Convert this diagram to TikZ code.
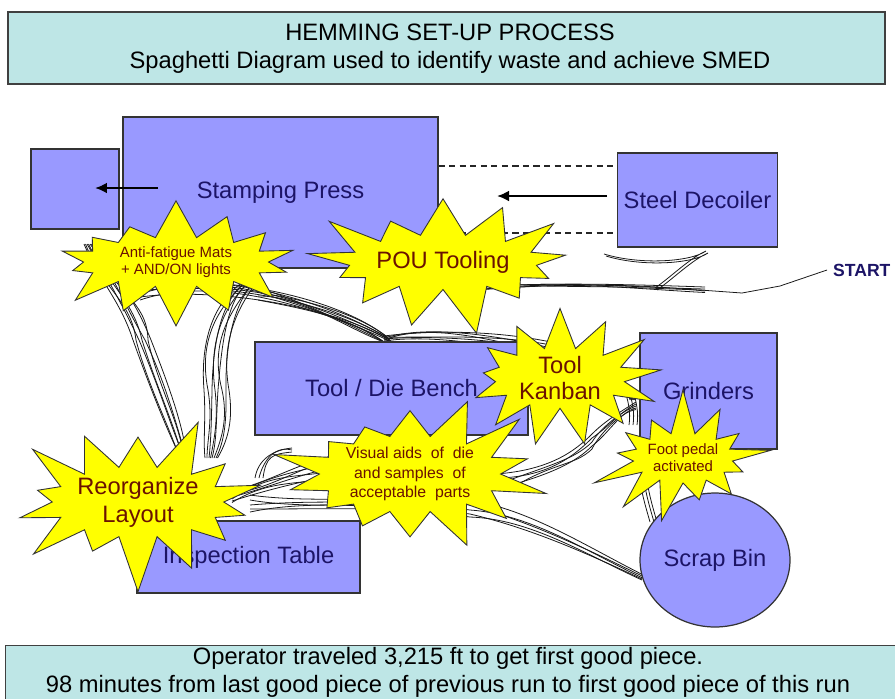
\documentclass[tikz,border=0pt]{standalone}
\usepackage{fontspec}
\setmainfont{Liberation Sans}
\usetikzlibrary{shapes.geometric,shapes.symbols,arrows.meta}

\definecolor{machine}{HTML}{9999FF}
\definecolor{banner}{HTML}{BEE6E6}
\definecolor{burst}{HTML}{FFFF00}
\definecolor{labelink}{HTML}{1C1466}
\definecolor{burstink}{HTML}{6A1200}

\tikzset{
  machine/.style={draw=black!80, fill=machine, line width=0.7pt, text=labelink,
    font=\fontsize{13.5}{15}\selectfont},
  banner/.style={draw=black!75, fill=banner, line width=0.8pt},
  bannertext/.style={align=center, font=\fontsize{13.5}{15.8}\selectfont},
  idea/.style={starburst, draw=black!80, fill=burst, line width=0.5pt, text=burstink,
    align=center, inner sep=0pt},
  trail/.style={line width=0.45pt, black!90},
  feed/.style={black!85, line width=0.6pt, dash pattern=on 3.5pt off 2.5pt},
  push/.style={-{Latex[length=2.4mm,width=2.2mm]}, line width=1.5pt},
}

\begin{document}
\begin{tikzpicture}[x=0.02cm, y=-0.02cm]
\clip (0,0) rectangle (895,698);
\fill[white] (0,0) rectangle (895,698);

% Banners
\node[banner, minimum width=17.54cm, minimum height=1.44cm] (title) at (446.5,48) {};
\node[bannertext] (titletext) at (450,49)
  {HEMMING SET-UP PROCESS\\Spaghetti Diagram used to identify waste and achieve SMED};
\node[banner, minimum width=18.1cm, minimum height=1.6cm, anchor=north west] (summary) at (5,645) {};
\node[bannertext] (summarytext) at (448,672)
  {Operator traveled 3,215 ft to get first good piece.\\98 minutes from last good piece of previous run to first good piece of this run};

% Operator path (spaghetti)
\node[text=labelink, font=\fontsize{10}{11}\selectfont\bfseries, anchor=west] (start) at (827,270) {START};
\draw[trail] (start.west) -- (780,286) -- (742,293) -- (700,290) -- (620,287) -- (540,286) -- (470,289);
\foreach \o/\w in {-2/0,0/3,2/-2,3.5/4}
  \draw[trail] (705,{289+\o}) .. controls (620,{284+\w}) and (540,{282-\w}) .. (455,{290+\o});
\foreach \o in {0,2}
  \draw[trail, shift={(\o,\o)}] (604,254) .. controls (640,265) and (690,262) .. (706,251)
    .. controls (690,258) and (672,276) .. (655,288);

\foreach \o/\w in {0/0,3/8,6/-6,9/4,12/-10,15/12,18/-3}
  \draw[trail] ({84+\o/2},244) .. controls ({100+\o},{282+\w}) and ({120+\o+\w},300) .. ({133+\o},340)
    .. controls ({148+\o-\w/2},382) and ({163+\o},420) .. ({176+\o/2},{448+\w/2});
\foreach \o/\w in {-8/0,-4/6,0/-5,3/3,6/-8,10/9,14/-3,17/5}
  \draw[trail] ({250+\o/2},280) .. controls ({222+\o},{300+\w}) and ({208+\o-\w},340) .. ({212+\o},390)
    .. controls ({214+\o+\w/2},420) and ({211+\o},440) .. ({209+\o/2},458);
\foreach \o/\w in {-6/0,-3/7,0/-6,3/4,6/-9,9/10,12/-3}
  \draw[trail] (140,{288+\o}) .. controls (220,{276+\w}) and ({330+\w},{300+\o}) .. ({388+\o/3},{338+\o/3});
\foreach \o/\w in {-4/0,0/6,4/-5,8/8}
  \draw[trail] (258,{292+\o}) .. controls (300,{300+\w}) and (350,{325-\w}) .. (384,342);
\foreach \o/\w in {-6/0,-3/8,0/-6,3/5,6/-9,9/4}
  \draw[trail] (384,{338+\o/3}) .. controls (430,{330+\w}) and (500,{336+\o}) .. (560,{350+\o})
    .. controls ({600+\w},{360+\o}) and (625,375) .. ({632+\o/3},400);
\foreach \o in {-4,0,4}
  \draw[trail, shift={(\o,0)}] (628,388) .. controls (632,400) and (635,412) .. (633,425);
\foreach \o/\w in {-8/0,-4/8,0/-6,4/5,8/-10,12/7,15/-3}
  \draw[trail] (232,{495+\o/2}) .. controls (270,{482+\w}) and (300,{470+\o}) .. (340,{462+\o})
    .. controls ({380+\w},{455+\o}) and (420,{470+\w}) .. (470,{480+\o});
\foreach \o/\w in {0/0,4/5,8/-4}
  \draw[trail] ({255+\o},478) .. controls ({258+\o},{460+\w}) and (272,{450-\w}) .. (292,{448+\o/2});
\foreach \o/\w in {-5/0,0/7,5/-6,9/4,12/-8}
  \draw[trail] (250,{500+\o}) .. controls (320,{505+\w}) and (420,{498+\o}) .. (470,{505+\o})
    .. controls (530,{515+\o+\w}) and (585,{548+\o/2}) .. (642,{576+\o/3});
\foreach \o/\w in {-4/0,0/6,4/-5,8/4,11/-7}
  \draw[trail] ({500+\o},{478+\o}) .. controls (550,{470+\w}) and (575,{455+\o}) .. (592,{438+\o})
    .. controls ({605+\w},{425+\o}) and (620,412) .. (636,{404+\o/2});
\foreach \o in {0,4,7}
  \draw[trail, shift={(\o,0)}] (640,480) .. controls (642,495) and (646,508) .. (650,522);

% Machines
\node[machine, minimum width=1.76cm, minimum height=1.6cm] (feeder) at (75,189) {};
\node[machine, minimum width=6.3cm, minimum height=3.02cm] (press) at (280.5,192.5) {Stamping Press};
\node[machine, minimum width=3.18cm, minimum height=1.88cm] (decoiler) at (697.5,200) {Steel Decoiler};
\node[machine, minimum width=5.46cm, minimum height=1.86cm] (bench) at (391.5,388.5) {Tool / Die Bench};
\node[machine, minimum width=2.74cm, minimum height=2.32cm] (grinders) at (708.5,391) {Grinders};
\node[machine, minimum width=4.46cm, minimum height=1.44cm] (inspect) at (248.5,557) {Inspection Table};
\node[machine, ellipse, inner sep=0pt, minimum width=3cm, minimum height=2.68cm] (scrap) at (715,560) {Scrap Bin};

% Material flow
\coordinate (feedtop) at (438,166);
\coordinate (feedbot) at (438,233);
\draw[feed] (press.east |- feedtop) -- (decoiler.west |- feedtop);
\draw[feed] (press.east |- feedbot) -- (decoiler.west |- feedbot);
\coordinate (coilout) at (607,196);
\coordinate (coilin) at (497,196);
\coordinate (pressout) at (158,188);
\coordinate (pressin) at (95,188);
\draw[push] (coilout) -- (coilin);
\draw[push] (pressout) -- (pressin);

% Improvement bursts
\node[idea, minimum width=5.3cm, minimum height=2.6cm, starburst point height=0.8cm, starburst points=14,
  random starburst=7, font=\fontsize{8.5}{10}\selectfont] (mats) at (176,262)
  {Anti-fatigue Mats\\+ AND/ON lights};
\node[idea, minimum width=4.6cm, minimum height=3.1cm, starburst point height=1cm, starburst points=13,
  random starburst=21, font=\fontsize{13.5}{15}\selectfont] (pou) at (443,262) {POU Tooling};
\node[idea, minimum width=4.2cm, minimum height=2.2cm, starburst point height=0.8cm, starburst points=13,
  random starburst=33, font=\fontsize{13.5}{14.5}\selectfont] (kanban) at (560,378) {Tool\\Kanban};
\node[idea, minimum width=5cm, minimum height=3cm, starburst point height=1cm, starburst points=14,
  random starburst=45, font=\fontsize{9}{11.3}\selectfont] (visual) at (410,474)
  {Visual aids \ of \ die\\and samples \ of\\acceptable \ parts};
\node[idea, minimum width=5.3cm, minimum height=3.2cm, starburst point height=1.1cm, starburst points=14,
  random starburst=58, font=\fontsize{13.5}{16}\selectfont] (reorg) at (138,502) {Reorganize\\Layout};
\node[idea, minimum width=3.7cm, minimum height=2.8cm, starburst point height=0.9cm, starburst points=13,
  random starburst=66, font=\fontsize{8.5}{9.6}\selectfont] (pedal) at (683,458) {Foot pedal\\activated};

\end{tikzpicture}
\end{document}
